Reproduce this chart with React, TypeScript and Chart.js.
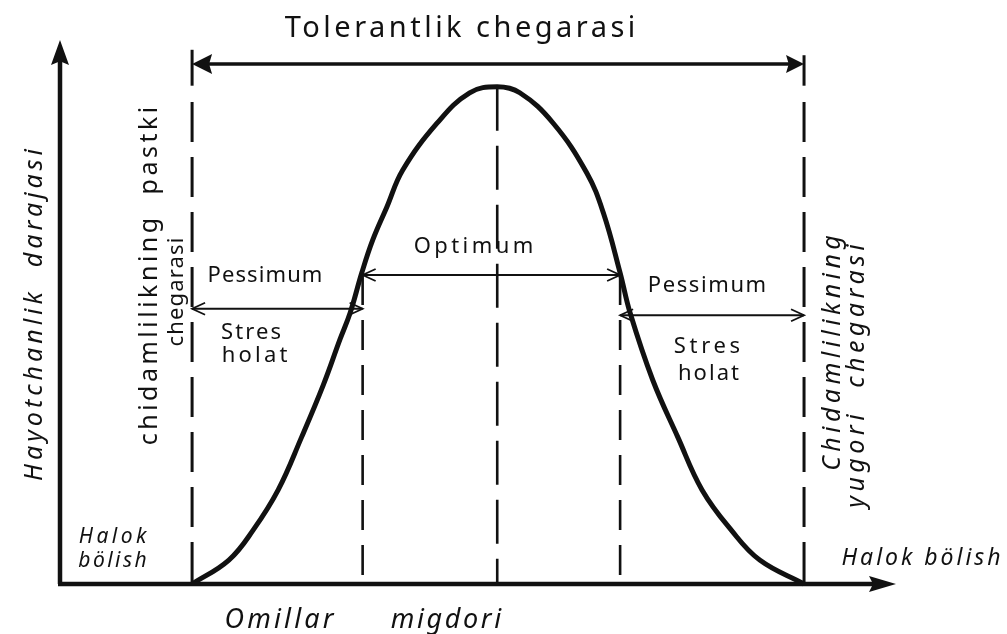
import React, { useEffect, useRef } from "react";
import { Chart, registerables } from "chart.js";

Chart.register(...registerables);

// ---- data (x: amount of factor, y: level of vital activity), both on 0..100 scales ----
const curveX = [15.8, 20.2, 23.1, 26.1, 28.9, 31.5, 33.5, 34.7, 36.1, 37.4, 39.1, 41.0, 45.1, 49.0, 52.3, 55.0, 59.0, 63.0, 65.0, 67.0, 68.2, 70.9, 73.9, 76.8, 80.3, 83.7, 89.0];
const curveY = [0, 4.4, 9.9, 17.3, 27.0, 36.6, 45.0, 49.8, 57.2, 63.2, 69.3, 76.1, 84.7, 90.3, 91.4, 90.3, 84.7, 75.6, 68.2, 57.2, 49.8, 37.5, 27.0, 17.3, 9.9, 4.4, 0];

const toleranceLimits = [15.8, 89.0];
const optimumZone = [36.2, 67.0];
const optimumPoint = 52.3;
const arrowLevels = { tolerance: 95.6, optimum: 56.8, pessimumLeft: 50.6, pessimumRight: 49.4 };
const limitTops = [98.2, 97.2];

type Label = { text: string; x: number; y: number; w: number; size: number; italic?: boolean; rot?: number };

const labels: Label[] = [
  { text: "Tolerantlik chegarasi", x: 47.85, y: 100.55, w: 354, size: 29 },
  { text: "Optimum", x: 49.46, y: 60.85, w: 123, size: 22 },
  { text: "Pessimum", x: 24.52, y: 55.51, w: 116, size: 22 },
  { text: "Stres", x: 22.85, y: 45.04, w: 62, size: 22 },
  { text: "holat", x: 23.27, y: 40.81, w: 69, size: 22 },
  { text: "Pessimum", x: 77.39, y: 53.68, w: 120, size: 22 },
  { text: "Stres", x: 77.39, y: 42.46, w: 70, size: 22 },
  { text: "holat", x: 77.57, y: 37.5, w: 63, size: 22 },
  { text: "Halok", x: 6.28, y: 7.54, w: 71, size: 21, italic: true },
  { text: "bölish", x: 6.28, y: 3.13, w: 71, size: 21, italic: true },
  { text: "Halok bölish", x: 102.99, y: 3.49, w: 162, size: 23, italic: true },
  { text: "Omillar", x: 26.2, y: -8.09, w: 112, size: 27, italic: true },
  { text: "migdori", x: 46.17, y: -8.09, w: 113, size: 27, italic: true },
  { text: "Hayotchanlik  darajasi", x: -2.15, y: 49.45, w: 336, size: 25, italic: true, rot: -90 },
  { text: "chidamlilikning  pastki", x: 11.6, y: 56.62, w: 342, size: 25, rot: -90 },
  { text: "chegarasi", x: 14.71, y: 53.68, w: 110, size: 22, rot: -90 },
  { text: "Chidamlilikning", x: 93.3, y: 42.46, w: 240, size: 25, italic: true, rot: -90 },
  { text: "yugori  chegarasi", x: 96.17, y: 38.24, w: 268, size: 25, italic: true, rot: -90 },
];

const INK = "#111";

function filledHead(ctx: CanvasRenderingContext2D, tx: number, ty: number, dx: number, dy: number, len: number, half: number) {
  const bx = tx - dx * len, by = ty - dy * len;
  const nx = -dy, ny = dx;
  ctx.beginPath();
  ctx.moveTo(tx, ty);
  ctx.lineTo(bx + nx * half, by + ny * half);
  ctx.lineTo(bx + dx * len * 0.15, by + dy * len * 0.15);
  ctx.lineTo(bx - nx * half, by - ny * half);
  ctx.closePath();
  ctx.fill();
}

function openHead(ctx: CanvasRenderingContext2D, tx: number, ty: number, dx: number, dy: number, len: number, half: number) {
  const bx = tx - dx * len, by = ty - dy * len;
  const nx = -dy, ny = dx;
  ctx.beginPath();
  ctx.moveTo(bx + nx * half, by + ny * half);
  ctx.lineTo(tx, ty);
  ctx.lineTo(bx - nx * half, by - ny * half);
  ctx.stroke();
}

function drawLabel(ctx: CanvasRenderingContext2D, L: Label, px: number, py: number) {
  ctx.save();
  ctx.font = `${L.italic ? "italic " : ""}${L.size}px "Noto Sans"`;
  ctx.fillStyle = INK;
  ctx.textAlign = "center";
  ctx.textBaseline = "alphabetic";
  const m = ctx.measureText(L.text).width;
  ctx.translate(px, py);
  if (L.rot) ctx.rotate((L.rot * Math.PI) / 180);
  if (L.w > m) {
    const sp = (L.w - m) / L.text.length;
    (ctx as any).letterSpacing = `${sp}px`;
    ctx.fillText(L.text, sp / 2, 0);
  } else {
    ctx.scale(L.w / m, 1);
    ctx.fillText(L.text, 0, 0);
  }
  ctx.restore();
}

const diagramPlugin = {
  id: "diagram",
  beforeDatasetsDraw(chart: any) {
    const { ctx, scales } = chart;
    const xs = scales.x, ys = scales.y;
    const X = (v: number) => xs.getPixelForValue(v);
    const Y = (v: number) => ys.getPixelForValue(v);
    ctx.save();
    ctx.strokeStyle = INK;
    ctx.lineCap = "butt";
    // tolerance limit lines
    toleranceLimits.forEach((lx, i) => {
      ctx.lineWidth = 3;
      ctx.setLineDash([]);
      ctx.beginPath();
      ctx.moveTo(X(lx), Y(limitTops[i]));
      ctx.lineTo(X(lx), Y(arrowLevels.tolerance - 4));
      ctx.stroke();
      ctx.setLineDash([40, 15]);
      ctx.beginPath();
      ctx.moveTo(X(lx), Y(arrowLevels.tolerance - 7));
      ctx.lineTo(X(lx), Y(0));
      ctx.stroke();
    });
    // optimum zone lines
    ctx.lineWidth = 2.6;
    optimumZone.forEach((lx) => {
      ctx.setLineDash([30, 15]);
      ctx.beginPath();
      ctx.moveTo(X(lx), Y(arrowLevels.optimum));
      ctx.lineTo(X(lx), Y(0));
      ctx.stroke();
    });
    // optimum point line
    const peak = Math.max(...curveY);
    ctx.setLineDash([44, 15]);
    ctx.beginPath();
    ctx.moveTo(X(optimumPoint), Y(peak));
    ctx.lineTo(X(optimumPoint), Y(0));
    ctx.stroke();
    ctx.restore();
  },
  afterDatasetsDraw(chart: any) {
    const { ctx, scales } = chart;
    const xs = scales.x, ys = scales.y;
    const X = (v: number) => xs.getPixelForValue(v);
    const Y = (v: number) => ys.getPixelForValue(v);
    ctx.save();
    ctx.strokeStyle = INK;
    ctx.fillStyle = INK;
    ctx.setLineDash([]);
    ctx.lineCap = "butt";

    // axes
    ctx.lineWidth = 4.5;
    ctx.beginPath();
    ctx.moveTo(X(0), Y(0));
    ctx.lineTo(X(0), Y(100) + 15);
    ctx.stroke();
    filledHead(ctx, X(0), Y(100), 0, -1, 25, 9);
    ctx.beginPath();
    ctx.moveTo(X(0) - 2, Y(0));
    ctx.lineTo(X(100) - 15, Y(0));
    ctx.stroke();
    filledHead(ctx, X(100), Y(0), 1, 0, 27, 8);

    // tolerance arrow
    const ty = Y(arrowLevels.tolerance);
    const l0 = X(toleranceLimits[0]), l1 = X(toleranceLimits[1]);
    ctx.lineWidth = 3.5;
    ctx.beginPath();
    ctx.moveTo(l0 + 8, ty);
    ctx.lineTo(l1 - 8, ty);
    ctx.stroke();
    filledHead(ctx, l0, ty, -1, 0, 20, 10);
    filledHead(ctx, l1, ty, 1, 0, 18, 9);

    // thin double arrows
    ctx.lineWidth = 1.8;
    const thin = (a: number, b: number, y: number) => {
      const ya = Y(y), xa = X(a), xb = X(b);
      ctx.beginPath();
      ctx.moveTo(xa, ya);
      ctx.lineTo(xb, ya);
      ctx.stroke();
      openHead(ctx, xa, ya, -1, 0, 13, 6);
      openHead(ctx, xb, ya, 1, 0, 13, 6);
    };
    thin(optimumZone[0], optimumZone[1], arrowLevels.optimum);
    thin(toleranceLimits[0], optimumZone[0], arrowLevels.pessimumLeft);
    thin(optimumZone[1], toleranceLimits[1], arrowLevels.pessimumRight);

    // texts
    labels.forEach((L) => drawLabel(ctx, L, X(L.x), Y(L.y)));
    ctx.restore();
  },
};

export default function App() {
  const ref = useRef<HTMLCanvasElement | null>(null);
  useEffect(() => {
    document.body.style.margin = "0";
    document.body.style.background = "#fff";
    if (!ref.current) return;
    const chart = new Chart(ref.current, {
      type: "line",
      data: {
        datasets: [
          {
            data: curveX.map((x, i) => ({ x, y: curveY[i] })),
            borderColor: INK,
            borderWidth: 5,
            pointRadius: 0,
            tension: 0.4,
            fill: false,
            clip: false as any,
          },
        ],
      },
      options: {
        animation: false,
        responsive: false,
        devicePixelRatio: 1,
        layout: { padding: { left: 60, right: 111, top: 40, bottom: 50 } },
        plugins: { legend: { display: false }, tooltip: { enabled: false } },
        events: [],
        scales: {
          x: { type: "linear", min: 0, max: 100, display: false },
          y: { type: "linear", min: 0, max: 100, display: false },
        },
      },
      plugins: [diagramPlugin],
    });
    return () => chart.destroy();
  }, []);
  return <canvas ref={ref} width={1007} height={634} style={{ display: "block" }} />;
}
